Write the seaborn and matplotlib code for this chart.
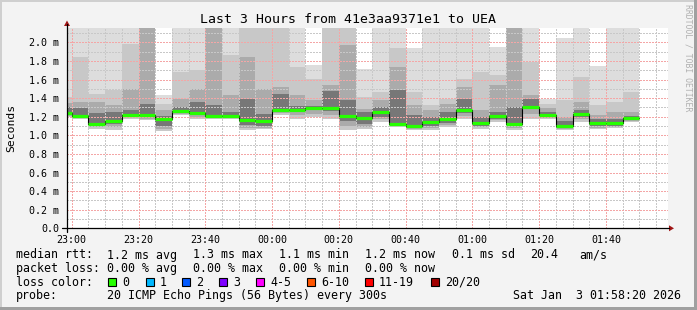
import numpy as np
import pandas as pd
import matplotlib
matplotlib.use("Agg")
import matplotlib.pyplot as plt
import matplotlib.dates as mdates
from matplotlib.patches import Rectangle, Polygon
from matplotlib.lines import Line2D
import seaborn as sns

# ---------------- data (milliseconds) ----------------
times = ["22:55", "23:00", "23:05", "23:10", "23:15", "23:20", "23:25", "23:30",
         "23:35", "23:40", "23:45", "23:50", "23:55", "00:00", "00:05", "00:10",
         "00:15", "00:20", "00:25", "00:30", "00:35", "00:40", "00:45", "00:50",
         "00:55", "01:00", "01:05", "01:10", "01:15", "01:20", "01:25", "01:30",
         "01:35", "01:40", "01:45"]
ping_max = [2.4, 2.4, 2.4, 2.4, 2.4, 2.4, 1.437, 2.4, 2.4, 2.4, 2.4, 2.4, 2.4, 2.4,
            2.4, 1.759, 2.4, 2.4, 1.716, 2.4, 2.4, 1.939, 2.4, 2.4, 2.4, 2.4, 1.950,
            2.4, 2.4, 1.394, 2.046, 2.4, 1.745, 2.4, 2.4]
band_b_hi = [1.41, 1.842, 1.448, 1.484, 1.985, 2.35, 1.34, 1.681, 1.698, 2.35, 1.867,
             2.35, 2.35, 2.35, 1.734, 1.609, 2.35, 2.35, 1.41, 1.466, 1.939, 1.466,
             1.322, 1.394, 1.609, 1.681, 1.645, 2.35, 1.788, 1.340, 1.376, 1.627,
             1.322, 1.358, 1.466]
band_c_hi = [1.35, 1.358, 1.358, 1.322, 1.501, 2.30, 1.27, 1.394, 1.501, 2.30, 1.43,
             1.84, 1.50, 1.519, 1.43, 1.376, 1.537, 1.967, 1.286, 1.376, 1.734, 1.322,
             1.268, 1.340, 1.519, 1.268, 1.537, 2.30, 1.430, 1.293, 1.20, 1.358,
             1.215, 1.25, 1.25]
band_d_hi = [1.30, 1.29, 1.24, 1.25, 1.27, 1.34, 1.21, 1.30, 1.358, 1.33, 1.25, 1.39,
             1.23, 1.448, 1.32, 1.31, 1.48, 1.376, 1.25, 1.30, 1.484, 1.22, 1.20, 1.25,
             1.394, 1.20, 1.25, 1.30, 1.394, 1.25, 1.15, 1.268, 1.17, 1.17, 1.21]
median = [1.240, 1.207, 1.125, 1.152, 1.218, 1.222, 1.170, 1.260, 1.240, 1.207, 1.207,
          1.161, 1.155, 1.277, 1.277, 1.295, 1.295, 1.204, 1.186, 1.251, 1.125, 1.100,
          1.143, 1.172, 1.268, 1.136, 1.207, 1.125, 1.304, 1.222, 1.100, 1.233, 1.132,
          1.136, 1.190]
band_d_lo = [1.22, 1.195, 1.10, 1.12, 1.205, 1.20, 1.10, 1.245, 1.22, 1.195, 1.195, 1.11,
             1.10, 1.26, 1.25, 1.27, 1.26, 1.15, 1.12, 1.20, 1.10, 1.08, 1.10, 1.13,
             1.24, 1.10, 1.18, 1.10, 1.28, 1.20, 1.08, 1.20, 1.10, 1.10, 1.17]
band_c_lo = [1.21, 1.19, 1.085, 1.09, 1.195, 1.18, 1.07, 1.23, 1.20, 1.19, 1.19, 1.08,
             1.08, 1.24, 1.22, 1.23, 1.22, 1.10, 1.09, 1.17, 1.095, 1.065, 1.075, 1.11,
             1.21, 1.085, 1.16, 1.075, 1.23, 1.19, 1.065, 1.17, 1.08, 1.09, 1.155]
ping_min = [1.20, 1.18, 1.07, 1.06, 1.18, 1.16, 1.05, 1.215, 1.18, 1.18, 1.18, 1.06,
            1.064, 1.215, 1.18, 1.197, 1.18, 1.053, 1.071, 1.143, 1.089, 1.053, 1.053,
            1.089, 1.179, 1.071, 1.143, 1.053, 1.179, 1.179, 1.053, 1.143, 1.064,
            1.078, 1.143]

yticks = [0.0, 0.2, 0.4, 0.6, 0.8, 1.0, 1.2, 1.4, 1.6, 1.8, 2.0]
ytick_labels = ["0.0", "0.2 m", "0.4 m", "0.6 m", "0.8 m", "1.0 m", "1.2 m",
                "1.4 m", "1.6 m", "1.8 m", "2.0 m"]
title = "Last 3 Hours from 41e3aa9371e1 to UEA"
legend_rows = [
    [(16, "median rtt:"), (107, "1.2 ms avg"), (193, "1.3 ms max"), (279, "1.1 ms min"),
     (365, "1.2 ms now"), (452, "0.1 ms sd"), (530, "20.4"), (579, "am/s")],
    [(16, "packet loss:"), (107, "0.00 % avg"), (193, "0.00 % max"),
     (279, "0.00 % min"), (365, "0.00 % now")],
    [(16, "loss color:")],
    [(16, "probe:"), (107, "20 ICMP Echo Pings (56 Bytes) every 300s"),
     (513, "Sat Jan  3 01:58:20 2026")],
]
loss_labels = ["0", "1", "2", "3", "4-5", "6-10", "11-19", "20/20"]
loss_colors = ["#26ff00", "#00b8ff", "#0059ff", "#7e00ff", "#ff00ff", "#ff5500",
               "#ff0000", "#a10000"]
loss_box_x = [108, 146, 182, 219, 256, 307, 365, 431]

# ---------------- figure ----------------
sns.set_theme(style="white")
plt.rcParams['font.family'] = ['DejaVu Sans Mono']
plt.rcParams['lines.scale_dashes'] = False

W, H = 697, 310
fig = plt.figure(figsize=(W / 100, H / 100), dpi=100, facecolor="#f3f3f3")
ax_l, ax_r, ax_t, ax_b = 67, 668, 27.7, 228.3
ax = fig.add_axes([ax_l / W, 1 - ax_b / H, (ax_r - ax_l) / W, (ax_b - ax_t) / H])
ax.set_facecolor("white")

t = pd.to_datetime(["2026-01-02 " + s for s in times])
t = t + pd.to_timedelta((t.hour < 12).astype(int), unit="D")
x = mdates.date2num(t)
width = 5 / 1440.0

shades = ["#dddddd", "#c8c8c8", "#ababab", "#777777"]
his = [ping_max, band_b_hi, band_c_hi, band_d_hi]
los = [ping_min, ping_min, band_c_lo, band_d_lo]
for shade, hi, lo in zip(shades, his, los):
    hi = np.array(hi); lo = np.array(lo)
    ax.bar(x, hi - lo, bottom=lo, width=width, align="edge", color=shade,
           linewidth=0, zorder=1, antialiased=False)

# median: black step line + green segments
xs = np.append(x, x[-1] + width)
ys = np.append(median, median[-1])
sns.lineplot(x=xs, y=ys, drawstyle="steps-post", color="black", linewidth=0.8,
             ax=ax, zorder=3, estimator=None, sort=False)
ax.hlines(median, x, x + width, colors=loss_colors[0], linewidth=2.3, zorder=4)

x0 = mdates.date2num(pd.Timestamp("2026-01-02 22:58:35"))
x1 = x0 + 180 / 1440.0
ax.set_xlim(x0, x1)
ax.set_ylim(0, 2.157)

ax.xaxis.set_major_locator(mdates.MinuteLocator(byminute=[0, 20, 40]))
ax.xaxis.set_minor_locator(mdates.MinuteLocator(byminute=range(0, 60, 5)))
ax.xaxis.set_major_formatter(mdates.DateFormatter("%H:%M"))
ax.set_yticks(yticks)
ax.set_yticklabels(ytick_labels)
ax.set_yticks(np.arange(0.1, 2.15, 0.2), minor=True)
ax.grid(False)

# dotted grid drawn over the smoke (as RRDtool does)
dot = (0, (1.0, 1.0))
major_c, minor_c = "#f4a6a6", "#c8c8c8"
for k in range(1, 22):
    yv = k * 0.1
    is_major = (k % 2 == 0)
    ax.axhline(yv, color=major_c if is_major else minor_c, lw=0.72,
               linestyle=dot, antialiased=False, zorder=2.6 if is_major else 2.5)
xt = list(ax.xaxis.get_majorticklocs()) + list(ax.xaxis.get_minorticklocs())
for tv in sorted(set(np.round(xt, 8))):
    if x0 < tv < x1:
        mins = int(round((tv % 1) * 1440)) % 60
        is_major = (mins % 20 == 0)
        ax.axvline(tv, color=major_c if is_major else minor_c, lw=0.72,
                   linestyle=dot, antialiased=False, zorder=2.6 if is_major else 2.5)

ax.tick_params(axis="both", which="major", labelsize=7.2, length=3, width=0.7,
               direction="inout", color="black", pad=3, labelcolor="black")
ax.tick_params(axis="both", which="minor", length=2, width=0.6, direction="inout",
               color="#444444")
ax.tick_params(axis="y", pad=4)

for s in ["top", "right", "left", "bottom"]:
    ax.spines[s].set_visible(False)

# axis lines with arrows (figure pixel coords)
def fx(px):
    return px / W
def fy(py):
    return 1 - py / H
fig.add_artist(Line2D([fx(62), fx(669)], [fy(228.3), fy(228.3)], color="black", lw=0.9))
fig.add_artist(Line2D([fx(67), fx(67)], [fy(232), fy(24)], color="black", lw=0.9))
arrow_c = "#a01515"
fig.add_artist(Polygon([[fx(669), fy(225.3)], [fx(669), fy(231.3)], [fx(674), fy(228.3)]],
                       closed=True, color=arrow_c, lw=0))
fig.add_artist(Polygon([[fx(64), fy(26)], [fx(70), fy(26)], [fx(67), fy(20.5)]],
                       closed=True, color=arrow_c, lw=0))

# title & labels
fig.text(fx(348), fy(19.5), title, ha="center", va="center", fontsize=9.5, color="black")
fig.text(fx(11), fy(128), "Seconds", ha="center", va="center", rotation=90,
         fontsize=8.2, color="black")
fig.text(fx(688), fy(4), "RRDTOOL / TOBI OETIKER", ha="center", va="top", rotation=270,
         fontsize=5.9, color="#b0b0b0")

row_y = [255, 268.5, 282, 295.5]
for ry, row in zip(row_y, legend_rows):
    for px, txt in row:
        fig.text(fx(px), fy(ry), txt, ha="left", va="center", fontsize=8.35, color="black")
for bx, lab, col in zip(loss_box_x, loss_labels, loss_colors):
    fig.add_artist(Rectangle((fx(bx), fy(285.8)), 7.5 / W, 7.5 / H, facecolor=col,
                             edgecolor="black", lw=0.8))
    fig.text(fx(bx + 14), fy(282), lab, ha="left", va="center", fontsize=8.35,
             color="black")

# frame
fig.add_artist(Rectangle((0, 1 - 2 / H), 1, 2 / H, facecolor="#cfcfcf", lw=0))
fig.add_artist(Rectangle((0, 0), 2 / W, 1, facecolor="#cfcfcf", lw=0))
fig.add_artist(Rectangle((1 - 3 / W, 0), 3 / W, 1, facecolor="#a0a0a0", lw=0))
fig.add_artist(Rectangle((0, 0), 1, 3 / H, facecolor="#a0a0a0", lw=0))

fig.savefig("out.png", dpi=100, facecolor=fig.get_facecolor())
